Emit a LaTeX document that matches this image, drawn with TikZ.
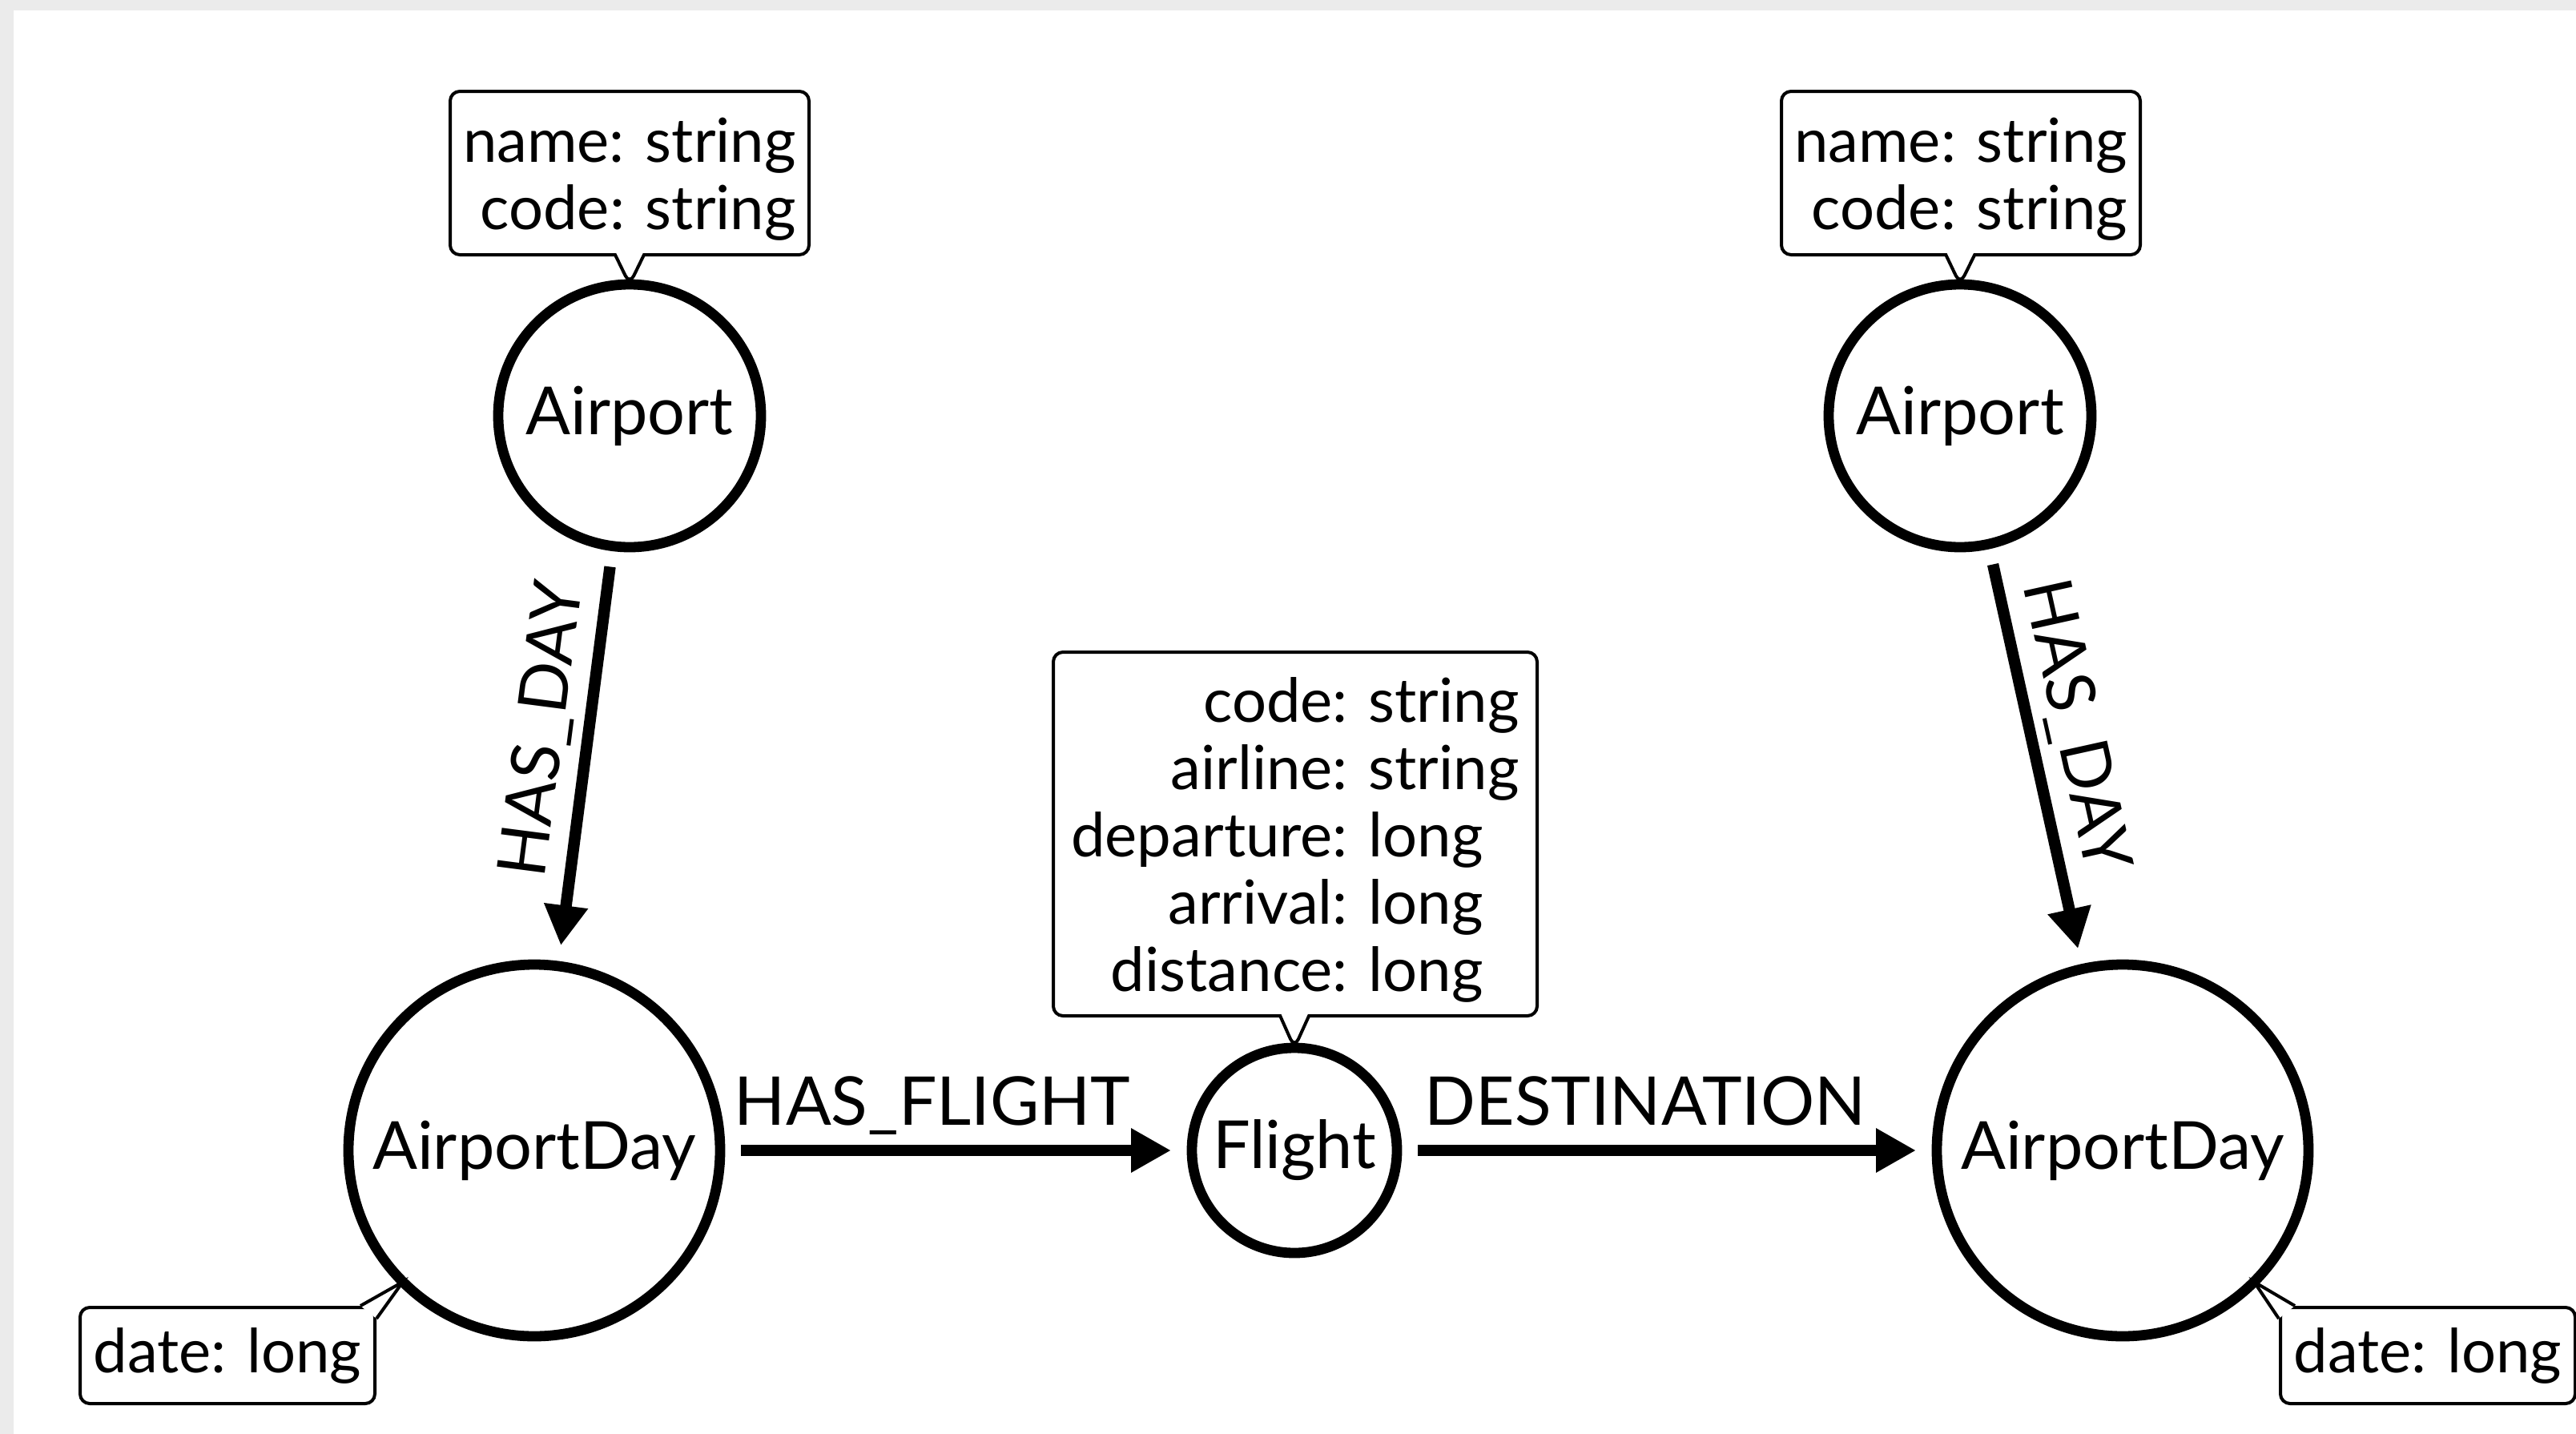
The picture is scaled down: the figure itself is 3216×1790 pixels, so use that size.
\documentclass[tikz,border=0pt]{standalone}
\usepackage{fontspec}
\setmainfont{Lato}
\usepackage{tikz}
\usetikzlibrary{arrows.meta,calc,shapes.callouts}

\definecolor{bggray}{HTML}{EBEBEB}
\newcommand\entityfont{\fontsize{20.7}{25}\selectfont}
\newcommand\propfont{\fontsize{19}{21}\selectfont}
\newcommand\relfont{\fontsize{21}{25}\selectfont}
\newcommand\topgap{\rule{0pt}{20.7pt}}

\begin{document}
\begin{tikzpicture}[x=0.25pt,y=-0.25pt,
    entity/.style={draw,circle,line width=3.2pt,inner sep=0pt,outer sep=0pt,font=\entityfont},
    props/.style={draw,fill=white,rectangle callout,rounded corners=3pt,line width=1pt,
                  inner xsep=4pt,inner ysep=1pt,callout pointer width=9pt,font=\propfont},
    datebox/.style={draw,fill=white,rectangle,rounded corners=3pt,line width=1pt,
                    inner sep=4pt,minimum width=92pt,minimum height=30pt,font=\propfont},
    tail/.style={fill=white,draw,line width=1pt,line join=miter},
    rel/.style={draw,line width=3.6pt,-{Triangle[length=12.5pt,width=13pt]},
                shorten >=6.5pt,shorten <=6.5pt},
    rellabel/.style={font=\relfont,inner sep=2pt,text depth=4pt}]
                      \useasboundingbox (0,0) rectangle (3216,1790);
                      \fill[bggray] (0,0) rectangle (3216,1790);
                      \fill[white] (17,13) rectangle (3216,1790);

                      \node[entity,minimum size=82pt]  (airportA) at (786,519)   {Airport};
                      \node[entity,minimum size=82pt]  (airportB) at (2447,519)  {Airport};
                      \node[entity,minimum size=116pt] (dayA)     at (667,1436)  {AirportDay};
                      \node[entity,minimum size=116pt] (dayB)     at (2650,1436) {AirportDay};
                      \node[entity,minimum size=64pt]  (flight)   at (1616,1436) {Flight};

                      \node[props,minimum width=112pt,minimum height=51pt,
                            callout absolute pointer={(airportA.north)}] (propsA) at (786,216)
                          {\begin{tabular}{@{}r@{: }l@{}}\topgap name & string\\ code & string\end{tabular}};
                      \node[props,minimum width=112pt,minimum height=51pt,
                            callout absolute pointer={(airportB.north)}] (propsB) at (2448,216)
                          {\begin{tabular}{@{}r@{: }l@{}}\topgap name & string\\ code & string\end{tabular}};
                      \node[props,minimum width=151pt,minimum height=113.5pt,
                            callout absolute pointer={(flight.north)}] (propsF) at (1617,1041)
                          {\begin{tabular}{@{}r@{: }l@{}}\topgap code & string\\ airline & string\\ departure & long\\
                           arrival & long\\ distance & long\end{tabular}};

                      \node[datebox] (propsDA) at (284,1692)  {date: long};
                      \node[datebox] (propsDB) at (3031,1692) {date: long};
                      \filldraw[tail] ($(propsDA.north east)+(-20,0)$) -- (dayA.south west) -- ($(propsDA.north east)+(0,16)$);
                      \filldraw[tail] ($(propsDB.north west)+(20,0)$) -- (dayB.south east) -- ($(propsDB.north west)+(0,16)$);

                      \path (airportA) edge[rel] node[rellabel,above,sloped,pos=0.45] {HAS\_DAY} (dayA)
                      (airportB)       edge[rel] node[rellabel,above,sloped,pos=0.45] {HAS\_DAY} (dayB)
                      (dayA)           edge[rel] node[rellabel,above,pos=0.45] {HAS\_FLIGHT} (flight)
                      (flight)         edge[rel] node[rellabel,above,pos=0.46] {DESTINATION} (dayB);
                  \end{tikzpicture}
\end{document}
